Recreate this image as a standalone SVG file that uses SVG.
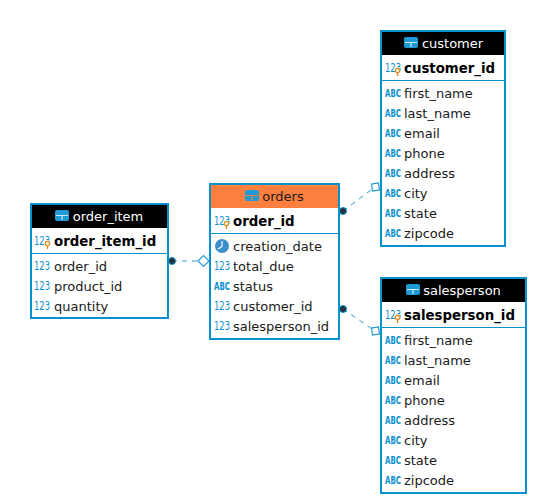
<svg xmlns="http://www.w3.org/2000/svg" xmlns:xlink="http://www.w3.org/1999/xlink" width="537" height="504" viewBox="0 0 537 504">
<style>
.box{fill:#fff;stroke:#0792cf;stroke-width:2}
.hd{fill:#000}
.hdo{fill:#ff7f3f}
.div{stroke:#0792cf;stroke-width:1}
text{font-family:"DejaVu Sans",sans-serif;font-size:13px;fill:#1a1a1a}
.t{fill:#fff;text-anchor:middle}
.to{fill:#1a1a1a;text-anchor:middle}
.pk{font-weight:bold;fill:#000;font-size:13.33px}
.n{font-size:12px;fill:#0a8fd0}
.a{font-size:10.5px;font-weight:bold;fill:#0a8fd0}
.cn{fill:none;stroke:#2a9bd0;stroke-width:1;stroke-dasharray:5 5}
.dot{fill:#263238;stroke:#0792cf;stroke-width:1}
.end{fill:#fff;stroke:#2a9bd0;stroke-width:1.2}
.bulb{fill:#fff3d0;stroke:#e08a1e;stroke-width:1.2}
</style>
<defs>
<g id="tbl"><rect x="0" y="0" width="14" height="11" rx="2" fill="#1e9ad6"/><path d="M1 5.500H13M7 5.500V10" stroke="#cfe9f7" stroke-width="1.200" fill="none"/></g>
<g id="tblo"><rect x="0" y="0" width="14" height="11" rx="2" fill="#1e9ad6"/><path d="M1 5.500H13M7 5.500V10" stroke="#ff7f3f" stroke-width="1.200" fill="none"/></g>
<g id="key"><circle cx="0" cy="0" r="2.200" class="bulb"/><path d="M0 2.500V5.500" stroke="#e08a1e" stroke-width="1.400"/></g>
</defs>
<g id="connectors">
<path class="cn" d="M172 261H198"/>
<path class="cn" d="M343 211L375 187"/>
<path class="cn" d="M343 309L375 331"/>
<circle class="dot" cx="172" cy="261" r="3.500"/>
<circle class="dot" cx="343" cy="211" r="3.500"/>
<circle class="dot" cx="343" cy="309" r="3.500"/>
<path class="end" d="M198 261L203.500 255.500L209 261L203.500 266.500Z"/>
<rect class="end" x="372" y="183.500" width="7" height="7" transform="rotate(-8 375.500 187)"/>
<rect class="end" x="372" y="327.500" width="7" height="7" transform="rotate(-8 375.500 331)"/>
</g>
<g id="order_item">
<rect class="box" x="31" y="204" width="137" height="114"/>
<rect class="hd" x="32" y="205" width="135" height="23"/>
<use xlink:href="#tbl" x="55" y="210"/>
<text class="t" x="108" y="221">order_item</text>
<path class="div" d="M32 253.500H167"/>
<text class="n" transform="translate(34 245) scale(.7 1)">123</text><use xlink:href="#key" x="47.500" y="243.500"/>
<text class="pk" x="54" y="246">order_item_id</text>
<text class="n" transform="translate(34 270) scale(.7 1)">123</text><text x="54" y="271">order_id</text>
<text class="n" transform="translate(34 290) scale(.7 1)">123</text><text x="54" y="291">product_id</text>
<text class="n" transform="translate(34 310) scale(.7 1)">123</text><text x="54" y="311">quantity</text>
</g>
<g id="orders">
<rect class="box" x="210" y="184" width="129" height="155"/>
<rect class="hdo" x="211" y="185" width="127" height="23"/>
<use xlink:href="#tblo" x="245" y="190"/>
<text class="to" x="283" y="201">orders</text>
<path class="div" d="M211 233.500H338"/>
<text class="n" transform="translate(214 225) scale(.7 1)">123</text><use xlink:href="#key" x="226.500" y="223.500"/>
<text class="pk" x="233" y="226">order_id</text>
<circle cx="222" cy="246" r="7" fill="#3d8fcb"/><path d="M222 241V246.500L218 249" stroke="#fff" stroke-width="1.200" fill="none"/>
<text x="233" y="251">creation_date</text>
<text class="n" transform="translate(214 270) scale(.7 1)">123</text><text x="233" y="271">total_due</text>
<text class="a" transform="translate(214 290) scale(.67 1)">ABC</text><text x="233" y="291">status</text>
<text class="n" transform="translate(214 310) scale(.7 1)">123</text><text x="233" y="311">customer_id</text>
<text class="n" transform="translate(214 330) scale(.7 1)">123</text><text x="233" y="331">salesperson_id</text>
</g>
<g id="customer">
<rect class="box" x="381" y="31" width="124" height="215"/>
<rect class="hd" x="382" y="32" width="122" height="23"/>
<use xlink:href="#tbl" x="404" y="37"/>
<text class="t" x="452.500" y="48">customer</text>
<path class="div" d="M382 80.500H504"/>
<text class="n" transform="translate(385 72) scale(.7 1)">123</text><use xlink:href="#key" x="397.500" y="70.500"/>
<text class="pk" x="404" y="73">customer_id</text>
<text class="a" transform="translate(385 97) scale(.67 1)">ABC</text><text x="404" y="98">first_name</text>
<text class="a" transform="translate(385 117) scale(.67 1)">ABC</text><text x="404" y="118">last_name</text>
<text class="a" transform="translate(385 137) scale(.67 1)">ABC</text><text x="404" y="138">email</text>
<text class="a" transform="translate(385 157) scale(.67 1)">ABC</text><text x="404" y="158">phone</text>
<text class="a" transform="translate(385 177) scale(.67 1)">ABC</text><text x="404" y="178">address</text>
<text class="a" transform="translate(385 197) scale(.67 1)">ABC</text><text x="404" y="198">city</text>
<text class="a" transform="translate(385 217) scale(.67 1)">ABC</text><text x="404" y="218">state</text>
<text class="a" transform="translate(385 237) scale(.67 1)">ABC</text><text x="404" y="238">zipcode</text>
</g>
<g id="salesperson">
<rect class="box" x="381" y="278" width="145" height="215"/>
<rect class="hd" x="382" y="279" width="143" height="23"/>
<use xlink:href="#tbl" x="406" y="284"/>
<text class="t" x="462" y="295">salesperson</text>
<path class="div" d="M382 327.500H525"/>
<text class="n" transform="translate(385 319) scale(.7 1)">123</text><use xlink:href="#key" x="397.500" y="317.500"/>
<text class="pk" x="404" y="320">salesperson_id</text>
<text class="a" transform="translate(385 344) scale(.67 1)">ABC</text><text x="404" y="345">first_name</text>
<text class="a" transform="translate(385 364) scale(.67 1)">ABC</text><text x="404" y="365">last_name</text>
<text class="a" transform="translate(385 384) scale(.67 1)">ABC</text><text x="404" y="385">email</text>
<text class="a" transform="translate(385 404) scale(.67 1)">ABC</text><text x="404" y="405">phone</text>
<text class="a" transform="translate(385 424) scale(.67 1)">ABC</text><text x="404" y="425">address</text>
<text class="a" transform="translate(385 444) scale(.67 1)">ABC</text><text x="404" y="445">city</text>
<text class="a" transform="translate(385 464) scale(.67 1)">ABC</text><text x="404" y="465">state</text>
<text class="a" transform="translate(385 484) scale(.67 1)">ABC</text><text x="404" y="485">zipcode</text>
</g>
</svg>
